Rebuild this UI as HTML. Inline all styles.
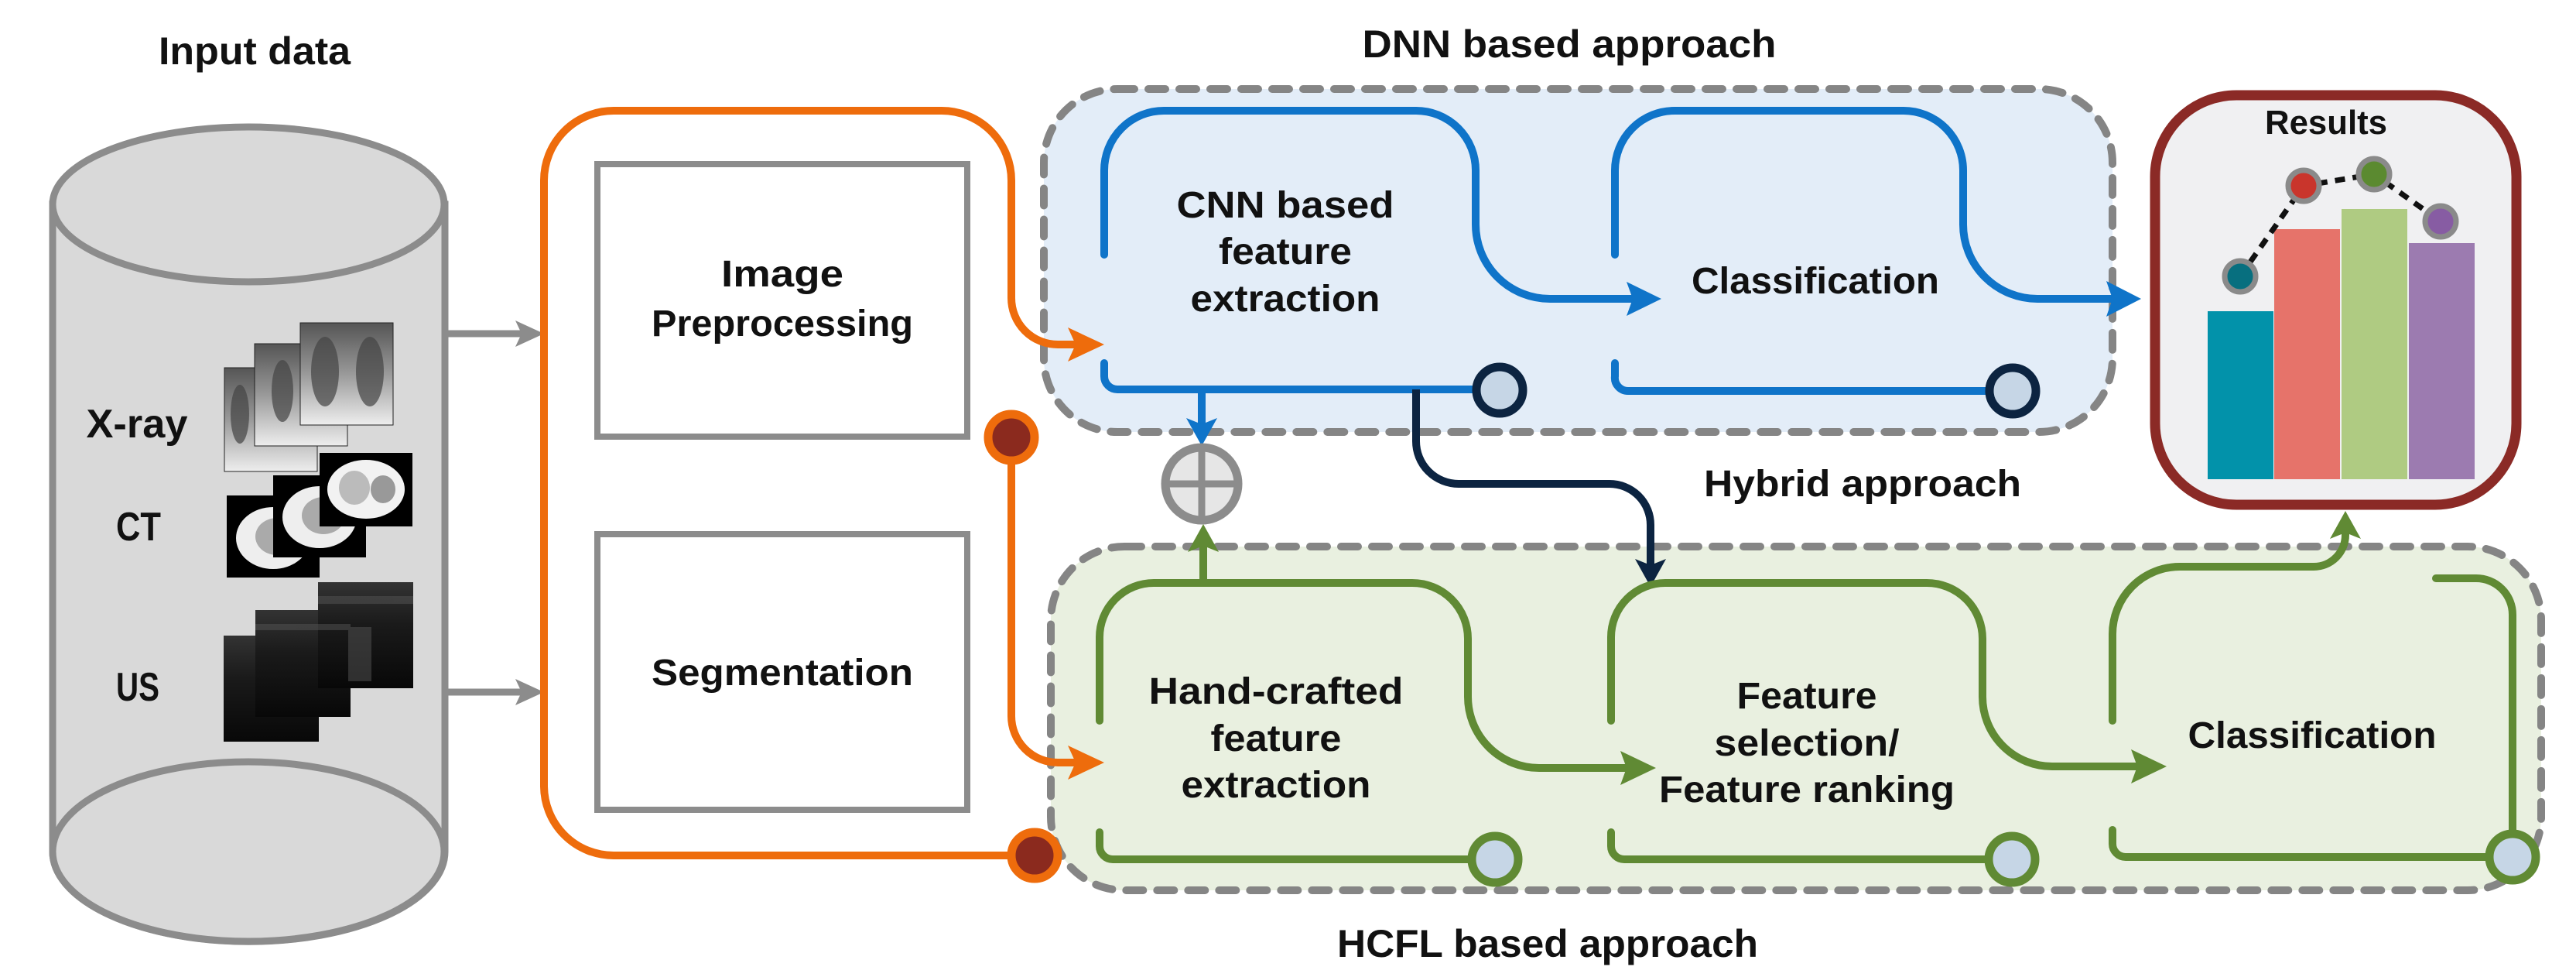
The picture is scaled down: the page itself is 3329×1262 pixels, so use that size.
<!DOCTYPE html>
<html><head><meta charset="utf-8"><style>
html,body{margin:0;padding:0;background:#fff;}
svg{display:block;}
text{font-family:"Liberation Sans",sans-serif;font-weight:bold;fill:#111;}
</style></head><body>
<svg width="3329" height="1262" viewBox="0 0 3329 1262" xmlns="http://www.w3.org/2000/svg">
<defs>
<linearGradient id="xr" x1="0" y1="0" x2="0" y2="1"><stop offset="0" stop-color="#555"/><stop offset="0.5" stop-color="#999"/><stop offset="1" stop-color="#eee"/></linearGradient>
<linearGradient id="us" x1="0" y1="0" x2="0" y2="1"><stop offset="0" stop-color="#333"/><stop offset="0.4" stop-color="#1a1a1a"/><stop offset="1" stop-color="#080808"/></linearGradient>
</defs>

<!-- Titles -->
<text x="329" y="83" font-size="50" text-anchor="middle" textLength="248" lengthAdjust="spacingAndGlyphs">Input data</text>
<text x="2028" y="74" font-size="50" text-anchor="middle" textLength="535" lengthAdjust="spacingAndGlyphs">DNN based approach</text>
<text x="2000" y="1236" font-size="50" text-anchor="middle" textLength="544" lengthAdjust="spacingAndGlyphs">HCFL based approach</text>
<text x="2407" y="641" font-size="48" text-anchor="middle" textLength="410" lengthAdjust="spacingAndGlyphs">Hybrid approach</text>

<!-- Cylinder -->
<path d="M68,264 V1100 A253,116 0 0 0 575,1100 V264 Z" fill="#d9d9d9" stroke="#8c8c8c" stroke-width="9"/>
<ellipse cx="321" cy="264" rx="253" ry="100" fill="#d9d9d9" stroke="#8c8c8c" stroke-width="9"/>
<ellipse cx="321" cy="1100" rx="253" ry="116" fill="#d9d9d9" stroke="#8c8c8c" stroke-width="9"/>

<text x="177" y="565" font-size="52" text-anchor="middle" textLength="131" lengthAdjust="spacingAndGlyphs">X-ray</text>
<text x="179" y="698" font-size="52" text-anchor="middle" textLength="58" lengthAdjust="spacingAndGlyphs">CT</text>
<text x="178" y="905" font-size="52" text-anchor="middle" textLength="56" lengthAdjust="spacingAndGlyphs">US</text>

<!-- X-ray images -->
<g stroke="#222" stroke-width="1">
<rect x="290" y="475" width="120" height="134" fill="url(#xr)"/>
<rect x="329" y="444" width="120" height="132" fill="url(#xr)"/>
<rect x="388" y="417" width="120" height="132" fill="url(#xr)"/>
</g>
<g fill="#444" opacity="0.7">
<ellipse cx="420" cy="480" rx="18" ry="45"/><ellipse cx="478" cy="480" rx="18" ry="45"/>
<ellipse cx="365" cy="505" rx="14" ry="40"/><ellipse cx="310" cy="535" rx="12" ry="38"/>
</g>
<!-- CT images -->
<rect x="293" y="640" width="120" height="106" fill="#000"/>
<ellipse cx="353" cy="695" rx="48" ry="40" fill="#eee"/><ellipse cx="358" cy="693" rx="28" ry="24" fill="#aaa"/>
<rect x="353" y="614" width="120" height="106" fill="#000"/>
<ellipse cx="413" cy="668" rx="48" ry="40" fill="#eee"/><ellipse cx="418" cy="666" rx="28" ry="24" fill="#aaa"/>
<rect x="413" y="585" width="120" height="95" fill="#000"/>
<ellipse cx="473" cy="632" rx="50" ry="38" fill="#f2f2f2"/><ellipse cx="458" cy="630" rx="20" ry="22" fill="#bbb"/><ellipse cx="495" cy="632" rx="16" ry="18" fill="#999"/>
<!-- US images -->
<rect x="289" y="821" width="123" height="137" fill="url(#us)"/>
<rect x="330" y="788" width="123" height="138" fill="url(#us)"/>
<rect x="411" y="752" width="123" height="137" fill="url(#us)"/>
<g fill="#555" opacity="0.5"><rect x="411" y="770" width="123" height="10"/><rect x="330" y="806" width="123" height="8"/><rect x="450" y="810" width="30" height="70"/></g>

<!-- Gray arrows -->
<g stroke="#8c8c8c" stroke-width="9" fill="#8c8c8c">
<line x1="579" y1="431" x2="675" y2="431"/>
<line x1="579" y1="894" x2="675" y2="894"/>
</g>
<polygon points="666,414 703,431 666,448 674,431" fill="#8c8c8c"/>
<polygon points="666,877 703,894 666,911 674,894" fill="#8c8c8c"/>

<!-- Middle boxes -->
<rect x="772" y="212" width="478" height="352" fill="#fff" stroke="#8c8c8c" stroke-width="8"/>
<rect x="772" y="690" width="478" height="356" fill="#fff" stroke="#8c8c8c" stroke-width="8"/>
<text x="1011" y="370" font-size="48" text-anchor="middle" textLength="158" lengthAdjust="spacingAndGlyphs">Image</text>
<text x="1011" y="434" font-size="48" text-anchor="middle" textLength="338" lengthAdjust="spacingAndGlyphs">Preprocessing</text>
<text x="1011" y="885" font-size="48" text-anchor="middle" textLength="338" lengthAdjust="spacingAndGlyphs">Segmentation</text>

<!-- Dashed regions -->
<rect x="1349" y="115" width="1381" height="443" rx="95" ry="95" fill="#e3edf8" stroke="#858585" stroke-width="10" stroke-dasharray="22 18" stroke-linecap="round"/>
<rect x="1358" y="706" width="1926" height="444" rx="95" ry="95" fill="#e9f0e0" stroke="#858585" stroke-width="10" stroke-dasharray="22 18" stroke-linecap="round"/>

<!-- Orange -->
<g fill="none" stroke="#ee6c0c" stroke-width="10">
<path d="M1337,1105 H793 A90,90 0 0 1 703,1015 V233 A90,90 0 0 1 793,143 H1217 A90,90 0 0 1 1307,233 V385 A60,60 0 0 0 1367,445 H1400"/>
<path d="M1307,565 V925 A60,60 0 0 0 1367,985 H1400"/>
</g>
<polygon points="1380,423 1427,445 1380,467 1390,445" fill="#ee6c0c"/>
<polygon points="1380,963 1427,985 1380,1007 1390,985" fill="#ee6c0c"/>
<circle cx="1307" cy="565" r="30" fill="#8b2a1e" stroke="#ee6c0c" stroke-width="11"/>
<circle cx="1337" cy="1105" r="30" fill="#8b2a1e" stroke="#ee6c0c" stroke-width="11"/>

<!-- Blue loops -->
<g fill="none" stroke="#0f74c9" stroke-width="10" stroke-linecap="round">
<path d="M1427,329 V220 A77,77 0 0 1 1504,143 H1830 A77,77 0 0 1 1907,220 V290 A96,96 0 0 0 2003,386 H2115"/>
<path d="M2087,329 V220 A77,77 0 0 1 2164,143 H2460 A77,77 0 0 1 2537,220 V290 A96,96 0 0 0 2633,386 H2735"/>
<path d="M1427,469 V486 A17,17 0 0 0 1444,503 H1905"/>
<path d="M2087,469 V486 A17,17 0 0 0 2104,505 H2570"/>
<path d="M1553,503 V550"/>
</g>
<polygon points="2102,364 2147,386 2102,408 2110,386" fill="#0f74c9"/>
<polygon points="2722,363 2767,386 2722,409 2730,386" fill="#0f74c9"/>
<polygon points="1533,540 1553,576 1573,540 1553,548" fill="#0f74c9"/>

<!-- Navy hybrid connector -->
<path d="M1830,503 V570 A55,55 0 0 0 1885,625 H2080 A53,53 0 0 1 2133,678 V735" fill="none" stroke="#0c2441" stroke-width="10"/>
<polygon points="2113,722 2133,758 2153,722 2133,730" fill="#0c2441"/>

<!-- circles blue -->
<circle cx="1938" cy="504" r="30" fill="#c6d6e6" stroke="#0c2441" stroke-width="11"/>
<circle cx="2601" cy="505" r="30" fill="#c6d6e6" stroke="#0c2441" stroke-width="11"/>

<!-- plus node -->
<circle cx="1553" cy="625" r="47" fill="#e6e6e6" stroke="#8c8c8c" stroke-width="11"/>
<line x1="1553" y1="578" x2="1553" y2="672" stroke="#8c8c8c" stroke-width="9"/>
<line x1="1506" y1="625" x2="1600" y2="625" stroke="#8c8c8c" stroke-width="9"/>

<!-- Green loops -->
<g fill="none" stroke="#608a34" stroke-width="10" stroke-linecap="round">
<path d="M1421,931 V823 A70,70 0 0 1 1491,753 H1825 A72,72 0 0 1 1897,825 V900 A92,92 0 0 0 1989,992 H2110"/>
<path d="M2082,931 V823 A70,70 0 0 1 2152,753 H2490 A72,72 0 0 1 2562,825 V900 A90,90 0 0 0 2652,990 H2772"/>
<path d="M2730,931 V819 A87,87 0 0 1 2817,732 H2990 A41,41 0 0 0 3031,691 V688"/>
<path d="M3148,747 H3200 A47,47 0 0 1 3247,794 V1078"/>
<path d="M1421,1075 V1093 A17,17 0 0 0 1438,1110 H1902"/>
<path d="M2082,1075 V1093 A17,17 0 0 0 2099,1110 H2570"/>
<path d="M2730,1072 V1090 A17,17 0 0 0 2747,1107 H3215"/>
<path d="M1555,753 V705"/>
</g>
<polygon points="2094,970 2140,992 2094,1014 2102,992" fill="#608a34"/>
<polygon points="2754,968 2800,990 2754,1012 2762,990" fill="#608a34"/>
<polygon points="3011,696 3031,660 3051,696 3031,688" fill="#608a34"/>
<polygon points="1535,713 1555,677 1575,713 1555,705" fill="#608a34"/>
<circle cx="1932" cy="1110" r="30" fill="#c6d6e6" stroke="#608a34" stroke-width="11"/>
<circle cx="2600" cy="1110" r="30" fill="#c6d6e6" stroke="#608a34" stroke-width="11"/>
<circle cx="3247" cy="1107" r="30" fill="#c6d6e6" stroke="#608a34" stroke-width="11"/>

<!-- Labels in loops -->
<text x="1661" y="281" font-size="48" text-anchor="middle" textLength="281" lengthAdjust="spacingAndGlyphs">CNN based</text>
<text x="1661" y="341" font-size="48" text-anchor="middle" textLength="172" lengthAdjust="spacingAndGlyphs">feature</text>
<text x="1661" y="402" font-size="48" text-anchor="middle" textLength="245" lengthAdjust="spacingAndGlyphs">extraction</text>
<text x="2346" y="379" font-size="48" text-anchor="middle" textLength="320" lengthAdjust="spacingAndGlyphs">Classification</text>
<text x="1649" y="909" font-size="48" text-anchor="middle" textLength="329" lengthAdjust="spacingAndGlyphs">Hand-crafted</text>
<text x="1649" y="970" font-size="48" text-anchor="middle" textLength="169" lengthAdjust="spacingAndGlyphs">feature</text>
<text x="1649" y="1030" font-size="48" text-anchor="middle" textLength="245" lengthAdjust="spacingAndGlyphs">extraction</text>
<text x="2335" y="915" font-size="48" text-anchor="middle" textLength="181" lengthAdjust="spacingAndGlyphs">Feature</text>
<text x="2335" y="976" font-size="48" text-anchor="middle" textLength="239" lengthAdjust="spacingAndGlyphs">selection/</text>
<text x="2335" y="1036" font-size="48" text-anchor="middle" textLength="382" lengthAdjust="spacingAndGlyphs">Feature ranking</text>
<text x="2988" y="966" font-size="48" text-anchor="middle" textLength="321" lengthAdjust="spacingAndGlyphs">Classification</text>

<!-- Results -->
<rect x="2785" y="123" width="467" height="529" rx="105" ry="105" fill="#f0f0f2" stroke="#8b2a26" stroke-width="13"/>
<text x="3006" y="173" font-size="44" text-anchor="middle" textLength="158" lengthAdjust="spacingAndGlyphs">Results</text>
<rect x="2853" y="402" width="85" height="217" fill="#0292aa"/>
<rect x="2939" y="296" width="85" height="323" fill="#e6736a"/>
<rect x="3026" y="270" width="85" height="349" fill="#afcb82"/>
<rect x="3113" y="314" width="85" height="305" fill="#9c7bb0"/>
<polyline points="2895,357 2977,240 3068,225 3154,286" fill="none" stroke="#111" stroke-width="7" stroke-dasharray="13 10"/>
<circle cx="2895" cy="357" r="20" fill="#076f7f" stroke="#8a8a8a" stroke-width="7"/>
<circle cx="2977" cy="240" r="20" fill="#c9352c" stroke="#8a8a8a" stroke-width="7"/>
<circle cx="3068" cy="225" r="20" fill="#5b8a30" stroke="#8a8a8a" stroke-width="7"/>
<circle cx="3154" cy="286" r="20" fill="#875ca3" stroke="#8a8a8a" stroke-width="7"/>
</svg>
</body></html>
